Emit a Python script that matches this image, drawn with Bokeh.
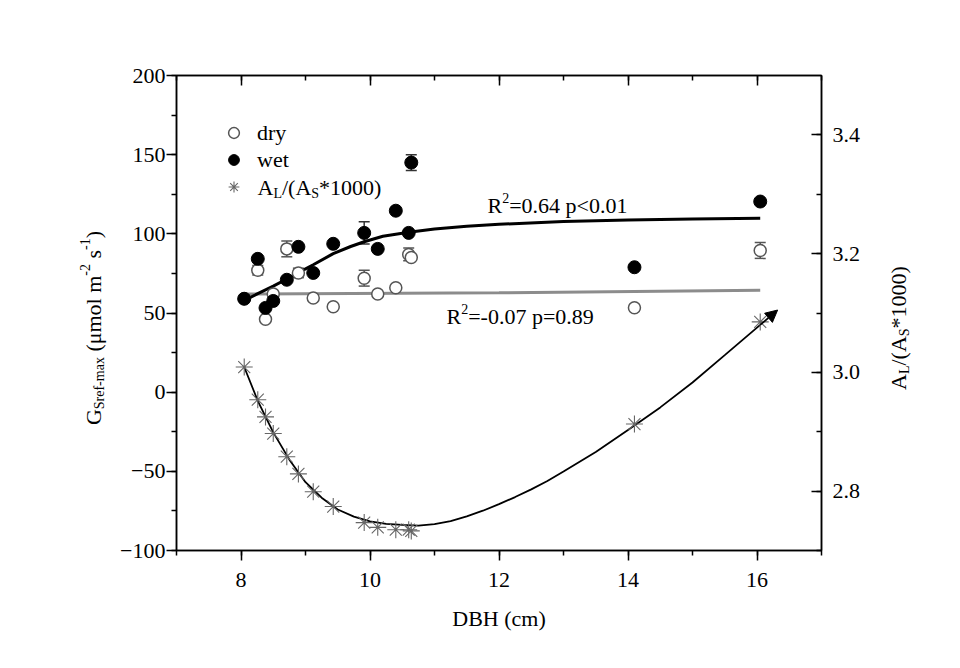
from bokeh.plotting import figure
from bokeh.models import (Range1d, LinearAxis, SingleIntervalTicker, Label, Whisker,
                          TeeHead, ColumnDataSource, Legend, LegendItem, Arrow, NormalHead,
                          CustomJSTickFormatter, PrintfTickFormatter, Div)
from bokeh.layouts import row
from bokeh.embed import file_html
from bokeh.resources import INLINE

# ---------------- data ----------------
dbh = [8.05, 8.26, 8.38, 8.50, 8.71, 8.89, 9.12, 9.43, 9.91, 10.12, 10.40, 10.60, 10.64, 14.10, 16.05]
dry = [59.0, 77.0, 46.0, 62.0, 90.5, 75.3, 59.5, 54.0, 72.0, 62.0, 66.0, 87.0, 85.0, 53.3, 89.5]
dry_err = [0, 3, 0, 0, 5, 3, 0, 0, 5, 0, 0, 4, 0, 2, 5]
wet = [59.0, 84.2, 53.2, 57.6, 71.0, 91.8, 75.3, 93.7, 100.6, 90.5, 114.6, 100.6, 145.0, 78.9, 120.4]
wet_err = [0, 0, 0, 0, 0, 0, 0, 0, 7, 0, 0, 0, 5, 0, 0]
ratio = [3.009, 2.954, 2.925, 2.897, 2.858, 2.829, 2.799, 2.774, 2.747, 2.739, 2.735, 2.735,
         2.733, 2.913, 3.085]

# fitted curves
wet_fit_x = [8.05, 8.3, 8.5, 8.71, 8.89, 9.12, 9.43, 9.7, 9.91, 10.2, 10.6, 11.0, 11.5, 12.0,
             13.0, 14.0, 15.0, 16.05]
wet_fit_y = [58.0, 63.0, 67.0, 71.5, 75.5, 80.5, 87.5, 92.0, 95.0, 98.5, 101.0, 103.0, 104.8,
             106.0, 107.8, 108.8, 109.4, 109.8]
dry_fit_x = [8.05, 12.0, 16.05]
dry_fit_y = [62.0, 62.8, 64.4]
ratio_fit_x = [8.05, 8.26, 8.5, 8.75, 9.0, 9.25, 9.5, 9.75, 10.0, 10.25, 10.5, 10.75, 11.0,
               11.25, 11.5, 11.75, 12.0, 12.25, 12.5, 12.75, 13.0, 13.5, 14.0, 14.5, 15.0,
               15.5, 16.05, 16.32]
ratio_fit_y = [3.009, 2.952, 2.899, 2.853, 2.815, 2.789, 2.769, 2.757, 2.749, 2.745, 2.743,
               2.742, 2.7445, 2.7495, 2.7575, 2.767, 2.778, 2.790, 2.803, 2.817, 2.833, 2.866,
               2.903, 2.941, 2.983, 3.029, 3.080, 3.105]

x_ticks_interval = 2
left_ticks_interval = 50
right_ticks_interval = 0.2

# ---------------- layout (page pixels) ----------------
FONT = "Liberation Serif"
PAGE_W, PAGE_H = 960, 668
DL = 110                # width of left label column
FL, FR, FT, FB = 176, 821, 75, 550   # frame edges on the page
BR = 45                 # right border of the figure
FIG_W = FR + BR - DL
DR = PAGE_W - DL - FIG_W
X0, X1 = 7, 17
Y0, Y1 = -100, 200
R0, R1 = 2.7, 3.5


def fx2x(px):
    return X0 + (px - FL) / (FR - FL) * (X1 - X0)


def fy2y(py):
    return Y1 - (py - FT) / (FB - FT) * (Y1 - Y0)


p = figure(width=FIG_W, height=PAGE_H, x_range=Range1d(X0, X1), y_range=Range1d(Y0, Y1),
           output_backend="svg", toolbar_location=None,
           min_border_left=FL - DL, min_border_right=BR,
           min_border_top=FT, min_border_bottom=PAGE_H - FB)
p.extra_y_ranges = {"right": Range1d(R0, R1)}
p.xgrid.visible = False
p.ygrid.visible = False
p.outline_line_color = "black"
p.outline_line_width = 1.5
p.background_fill_color = "white"
p.border_fill_color = "white"


def style_axis(ax):
    ax.axis_line_color = "black"
    ax.axis_line_width = 1.5
    ax.major_tick_line_color = "black"
    ax.minor_tick_line_color = "black"
    ax.major_tick_line_width = 1.5
    ax.minor_tick_line_width = 1.5
    ax.major_label_text_font = FONT
    ax.major_label_text_font_size = "22px"
    ax.major_label_text_color = "black"
    ax.axis_label_text_font = FONT
    ax.axis_label_text_font_size = "22px"
    ax.axis_label_text_font_style = "normal"
    ax.axis_label_text_color = "black"


xa = p.xaxis[0]
xa.ticker = SingleIntervalTicker(interval=x_ticks_interval, num_minor_ticks=2)
style_axis(xa)
xa.major_tick_out, xa.major_tick_in = 10, 0
xa.minor_tick_out, xa.minor_tick_in = 5, 0
xa.major_label_standoff = 12
xa.axis_label = "DBH (cm)"
xa.axis_label_standoff = 16

ya = p.yaxis[0]
ya.ticker = SingleIntervalTicker(interval=left_ticks_interval, num_minor_ticks=2)
style_axis(ya)
ya.major_tick_out, ya.major_tick_in = 10, 0
ya.minor_tick_out, ya.minor_tick_in = 5, 0
ya.major_label_standoff = 1

top = LinearAxis(ticker=SingleIntervalTicker(interval=x_ticks_interval, num_minor_ticks=2),
                 formatter=CustomJSTickFormatter(code="return ''"))
style_axis(top)
top.major_tick_in, top.major_tick_out = 10, 0
top.minor_tick_in, top.minor_tick_out = 5, 0
top.major_label_standoff = 0
p.add_layout(top, "above")

right = LinearAxis(y_range_name="right",
                   ticker=SingleIntervalTicker(interval=right_ticks_interval, num_minor_ticks=2),
                   formatter=PrintfTickFormatter(format="%.1f"))
style_axis(right)
right.major_tick_in, right.major_tick_out = 10, 0
right.minor_tick_in, right.minor_tick_out = 5, 0
right.major_label_standoff = 11
p.add_layout(right, "right")

# ---------------- fitted lines ----------------
p.line(dry_fit_x, dry_fit_y, line_color="#8c8c8c", line_width=3)
p.line(wet_fit_x, wet_fit_y, line_color="black", line_width=3)
p.line(ratio_fit_x[:-1], ratio_fit_y[:-1], line_color="black", line_width=1.8,
       y_range_name="right")
p.add_layout(Arrow(end=NormalHead(size=12, fill_color="black", line_color="black"),
                   x_start=ratio_fit_x[-2], y_start=ratio_fit_y[-2],
                   x_end=ratio_fit_x[-1], y_end=ratio_fit_y[-1],
                   line_color="black", line_width=1.8, y_range_name="right"))

# ---------------- error bars ----------------
dsel = [i for i, e in enumerate(dry_err) if e > 0]
dsrc = ColumnDataSource(dict(x=[dbh[i] for i in dsel],
                             lo=[dry[i] - dry_err[i] for i in dsel],
                             up=[dry[i] + dry_err[i] for i in dsel]))
p.add_layout(Whisker(source=dsrc, base="x", lower="lo", upper="up", dimension="height",
                     line_color="#555555", line_width=1.5,
                     upper_head=TeeHead(size=11, line_color="#555555", line_width=1.5),
                     lower_head=TeeHead(size=11, line_color="#555555", line_width=1.5)))
wsel = [i for i, e in enumerate(wet_err) if e > 0]
wsrc = ColumnDataSource(dict(x=[dbh[i] for i in wsel],
                             lo=[wet[i] - wet_err[i] for i in wsel],
                             up=[wet[i] + wet_err[i] for i in wsel]))
p.add_layout(Whisker(source=wsrc, base="x", lower="lo", upper="up", dimension="height",
                     line_color="#333333", line_width=1.5,
                     upper_head=TeeHead(size=11, line_color="#333333", line_width=1.5),
                     lower_head=TeeHead(size=11, line_color="#333333", line_width=1.5)))

# ---------------- points ----------------
r_dry = p.scatter(dbh, dry, marker="circle", size=12, fill_color="white",
                  line_color="#555555", line_width=1.5)
r_wet = p.scatter(dbh, wet, marker="circle", size=13, fill_color="black",
                  line_color="black", line_width=1)
r_star = p.scatter(dbh, ratio, marker="asterisk", size=17, line_color="#666666",
                   line_width=1.1, y_range_name="right")

# ---------------- legend ----------------
leg = Legend(items=[LegendItem(label="dry", renderers=[r_dry]),
                    LegendItem(label="wet", renderers=[r_wet]),
                    LegendItem(label=" ", renderers=[r_star])],
             location=(44, 350), margin=0, padding=0, spacing=0,
             glyph_width=27, glyph_height=27, label_height=27, label_standoff=10,
             border_line_color=None, background_fill_alpha=0,
             label_text_font=FONT, label_text_font_size="22px", label_text_color="black")
p.add_layout(leg)


# ---------------- rich texts inside the frame ----------------
def lab(text, px, py, size):
    p.add_layout(Label(x=fx2x(px), y=fy2y(py), text=text, text_font=FONT,
                       text_font_size=f"{size}px", text_baseline="middle",
                       text_align="left", text_color="black"))


def rich_h(pieces, px, py):
    # pieces: (text, size, shift(px, +down), width_em)
    for text, size, shift, wem in pieces:
        lab(text, px, py + shift, size)
        px += wem * size


M, S = 22, 14
rich_h([("A", M, 0, 0.722), ("L", S, 6, 0.611), ("/(A", M, 0, 1.333), ("S", S, 6, 0.556),
        ("*1000)", M, 0, 2.833)], 257, 187)
rich_h([("R", M, 0, 0.667), ("2", S, -8, 0.5), ("=0.64 p<0.01", M, 0, 5.4)], 487, 205)
rich_h([("R", M, 0, 0.667), ("2", S, -8, 0.5), ("=-0.07 p=0.89", M, 0, 6.2)], 446, 316)


# ---------------- vertical axis titles (HTML, real text) ----------------
def vtitle(html, cx, cy, w):
    span = ("<span style=\"position:absolute;left:%dpx;top:%dpx;"
            "transform:translate(-50%%,-50%%) rotate(180deg);writing-mode:vertical-rl;"
            "white-space:nowrap;font-family:'%s';font-size:%dpx;line-height:1;"
            "color:black;\">%s</span>") % (cx, cy, FONT, M, html)
    return Div(text="<div style=\"position:relative;width:%dpx;height:%dpx;\">%s</div>"
               % (w, PAGE_H, span), width=w, height=PAGE_H, margin=0)


SUB = "<sub style=\"font-size:%dpx\">%s</sub>"
SUP = "<sup style=\"font-size:%dpx\">%s</sup>"
left_html = ("G" + SUB % (S, "Sref-max") + " (\u03bcmol m" + SUP % (S, "-2") + " s"
             + SUP % (S, "-1") + ")")
right_html = "A" + SUB % (S, "L") + "/(A" + SUB % (S, "S") + "*1000)"

div_l = vtitle(left_html, 93, 328, DL)
div_r = vtitle(right_html, 900 - (DL + FIG_W), 328, DR)

layout = row(div_l, p, div_r, spacing=0)
open("out.html", "w").write(file_html(layout, INLINE))
